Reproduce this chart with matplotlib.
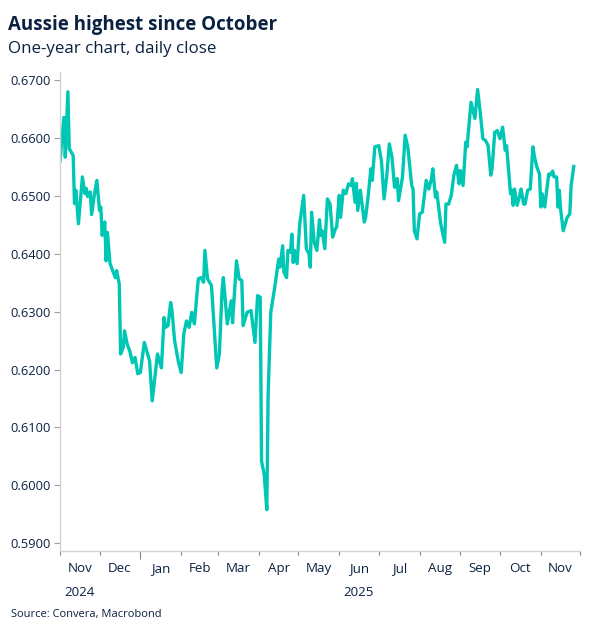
import matplotlib
matplotlib.use('Agg')
import matplotlib.pyplot as plt
import matplotlib.dates as mdates
import numpy as np
import pandas as pd

# AUD/USD daily close
dates = [
    "2024-11-01", "2024-11-04", "2024-11-05", "2024-11-07", "2024-11-08", "2024-11-11",
    "2024-11-12", "2024-11-13", "2024-11-15", "2024-11-18", "2024-11-20", "2024-11-21",
    "2024-11-22", "2024-11-24", "2024-11-25", "2024-11-27", "2024-11-29", "2024-12-01",
    "2024-12-02", "2024-12-03", "2024-12-05", "2024-12-06", "2024-12-07", "2024-12-09",
    "2024-12-10", "2024-12-13", "2024-12-14", "2024-12-16", "2024-12-17", "2024-12-19",
    "2024-12-20", "2024-12-22", "2024-12-24", "2024-12-26", "2024-12-28", "2024-12-30",
    "2025-01-01", "2025-01-04", "2025-01-08", "2025-01-10", "2025-01-14", "2025-01-17",
    "2025-01-19", "2025-01-20", "2025-01-22", "2025-01-24", "2025-01-25", "2025-01-27",
    "2025-01-30", "2025-02-01", "2025-02-03", "2025-02-05", "2025-02-07", "2025-02-09",
    "2025-02-11", "2025-02-14", "2025-02-16", "2025-02-18", "2025-02-19", "2025-02-21",
    "2025-02-24", "2025-02-28", "2025-03-02", "2025-03-04", "2025-03-05", "2025-03-08",
    "2025-03-11", "2025-03-12", "2025-03-15", "2025-03-17", "2025-03-19", "2025-03-20",
    "2025-03-23", "2025-03-26", "2025-03-29", "2025-03-31", "2025-04-02", "2025-04-03",
    "2025-04-05", "2025-04-07", "2025-04-08", "2025-04-10", "2025-04-13", "2025-04-16",
    "2025-04-17", "2025-04-19", "2025-04-20", "2025-04-22", "2025-04-23", "2025-04-25",
    "2025-04-26", "2025-04-27", "2025-04-28", "2025-04-30", "2025-05-02", "2025-05-05",
    "2025-05-07", "2025-05-09", "2025-05-10", "2025-05-11", "2025-05-13", "2025-05-15",
    "2025-05-17", "2025-05-18", "2025-05-19", "2025-05-21", "2025-05-23", "2025-05-25",
    "2025-05-27", "2025-05-29", "2025-05-30", "2025-06-01", "2025-06-02", "2025-06-04",
    "2025-06-06", "2025-06-08", "2025-06-10", "2025-06-11", "2025-06-13", "2025-06-14",
    "2025-06-15", "2025-06-17", "2025-06-20", "2025-06-21", "2025-06-23", "2025-06-25",
    "2025-06-26", "2025-06-28", "2025-07-01", "2025-07-03", "2025-07-05", "2025-07-07",
    "2025-07-09", "2025-07-11", "2025-07-13", "2025-07-15", "2025-07-16", "2025-07-19",
    "2025-07-21", "2025-07-23", "2025-07-26", "2025-07-27", "2025-07-28", "2025-07-30",
    "2025-08-01", "2025-08-03", "2025-08-06", "2025-08-08", "2025-08-10", "2025-08-11",
    "2025-08-13", "2025-08-14", "2025-08-17", "2025-08-20", "2025-08-21", "2025-08-23",
    "2025-08-25", "2025-08-27", "2025-08-29", "2025-08-31", "2025-09-01", "2025-09-03",
    "2025-09-05", "2025-09-06", "2025-09-09", "2025-09-12", "2025-09-14", "2025-09-16",
    "2025-09-18", "2025-09-20", "2025-09-22", "2025-09-24", "2025-09-25", "2025-09-27",
    "2025-09-29", "2025-10-01", "2025-10-03", "2025-10-05", "2025-10-06", "2025-10-09",
    "2025-10-10", "2025-10-11", "2025-10-12", "2025-10-14", "2025-10-16", "2025-10-17",
    "2025-10-19", "2025-10-20", "2025-10-22", "2025-10-24", "2025-10-26", "2025-10-27",
    "2025-10-29", "2025-10-31", "2025-11-01", "2025-11-02", "2025-11-04", "2025-11-05",
    "2025-11-07", "2025-11-08", "2025-11-10", "2025-11-11", "2025-11-13", "2025-11-14",
    "2025-11-15", "2025-11-16", "2025-11-18", "2025-11-20", "2025-11-21", "2025-11-23",
    "2025-11-24", "2025-11-26",
]
close = [
    0.6561, 0.6636, 0.6567, 0.6680, 0.6582, 0.6570,
    0.6487, 0.6510, 0.6452, 0.6533, 0.6504, 0.6513,
    0.6499, 0.6507, 0.6468, 0.6501, 0.6527, 0.6475,
    0.6481, 0.6432, 0.6455, 0.6388, 0.6437, 0.6383,
    0.6377, 0.6359, 0.6371, 0.6348, 0.6227, 0.6238,
    0.6267, 0.6244, 0.6232, 0.6212, 0.6221, 0.6193,
    0.6195, 0.6247, 0.6215, 0.6146, 0.6227, 0.6203,
    0.6290, 0.6273, 0.6276, 0.6316, 0.6302, 0.6250,
    0.6212, 0.6195, 0.6262, 0.6284, 0.6273, 0.6299,
    0.6279, 0.6357, 0.6359, 0.6351, 0.6406, 0.6357,
    0.6345, 0.6203, 0.6227, 0.6336, 0.6359, 0.6279,
    0.6319, 0.6281, 0.6388, 0.6357, 0.6354, 0.6276,
    0.6299, 0.6302, 0.6247, 0.6328, 0.6325, 0.6042,
    0.6019, 0.5958, 0.6157, 0.6299, 0.6342, 0.6391,
    0.6377, 0.6414, 0.6368, 0.6359, 0.6406, 0.6403,
    0.6434, 0.6385, 0.6406, 0.6383, 0.6452, 0.6501,
    0.6409, 0.6400, 0.6377, 0.6472, 0.6420, 0.6406,
    0.6459, 0.6432, 0.6440, 0.6409, 0.6495, 0.6486,
    0.6429, 0.6443, 0.6446, 0.6501, 0.6463, 0.6510,
    0.6504, 0.6521, 0.6518, 0.6530, 0.6489, 0.6522,
    0.6475, 0.6510, 0.6455, 0.6463, 0.6501, 0.6547,
    0.6527, 0.6585, 0.6587, 0.6561, 0.6495, 0.6533,
    0.6590, 0.6567, 0.6515, 0.6530, 0.6492, 0.6533,
    0.6605, 0.6585, 0.6518, 0.6512, 0.6440, 0.6426,
    0.6469, 0.6472, 0.6527, 0.6512, 0.6530, 0.6547,
    0.6498, 0.6507, 0.6452, 0.6420, 0.6486, 0.6486,
    0.6501, 0.6536, 0.6553, 0.6521, 0.6544, 0.6518,
    0.6593, 0.6585, 0.6662, 0.6634, 0.6684, 0.6645,
    0.6599, 0.6596, 0.6587, 0.6536, 0.6547, 0.6610,
    0.6613, 0.6599, 0.6619, 0.6579, 0.6587, 0.6504,
    0.6510, 0.6484, 0.6512, 0.6484, 0.6501, 0.6512,
    0.6486, 0.6486, 0.6510, 0.6512, 0.6585, 0.6570,
    0.6550, 0.6538, 0.6481, 0.6504, 0.6481, 0.6501,
    0.6538, 0.6536, 0.6543, 0.6533, 0.6533, 0.6481,
    0.6510, 0.6478, 0.6440, 0.6455, 0.6463, 0.6469,
    0.6518, 0.6551,
]
yticks = [0.59, 0.60, 0.61, 0.62, 0.63, 0.64, 0.65, 0.66, 0.67]
month_labels = ["Nov\n2024", "Dec", "Jan", "Feb", "Mar", "Apr", "May",
                "Jun\n2025", "Jul", "Aug", "Sep", "Oct", "Nov"]

navy = '#0b2142'
teal = '#00c7b4'
plt.rcParams['font.family'] = ['Open Sans', 'DejaVu Sans']

x = pd.to_datetime(dates)

fig = plt.figure(figsize=(5.94, 6.33), dpi=100)
ax = fig.add_axes([0.101, 0.129, 0.876, 0.757])

ax.plot(x, close, color=teal, linewidth=2.4, solid_joinstyle='round')

ax.set_ylim(0.5886, 0.6714)
ax.set_yticks(yticks)
ax.set_yticklabels(["%.4f" % v for v in yticks])

month_starts = pd.date_range("2024-11-01", "2025-12-01", freq="MS")
ax.set_xlim(month_starts[0], month_starts[-1])
ax.set_xticks(month_starts)
ax.set_xticklabels([])
mids = [a + (b - a) / 2 for a, b in zip(month_starts[:-1], month_starts[1:])]
ax.set_xticks(mids, minor=True)
ax.set_xticklabels(month_labels, minor=True, va='top', linespacing=2.05)

for s in ['top', 'right']:
    ax.spines[s].set_visible(False)
for s in ['left', 'bottom']:
    ax.spines[s].set_color('#d4d4d4')
    ax.spines[s].set_linewidth(1.0)

ax.tick_params(axis='y', length=4, color='#a0a0a0', labelsize=9.3, labelcolor=navy, pad=3)
ax.tick_params(axis='x', which='major', length=3, color='#808080', width=0.8)
ax.tick_params(axis='x', which='minor', length=0, labelsize=9.6, labelcolor=navy, pad=8)
# taller tick at the year change
for t, d in zip(ax.xaxis.get_major_ticks(), month_starts):
    if d.month == 1:
        t.tick1line.set_markersize(6)

fig.text(0.013, 0.961, "Aussie highest since October", fontsize=13.5, fontweight='bold',
         color=navy, va='center', ha='left')
fig.text(0.013, 0.922, "One-year chart, daily close", fontsize=12.2,
         color=navy, va='center', ha='left')
fig.text(0.018, 0.030, "Source: Convera, Macrobond", fontsize=8,
         color=navy, va='center', ha='left')

plt.savefig("out.png", dpi=100)
